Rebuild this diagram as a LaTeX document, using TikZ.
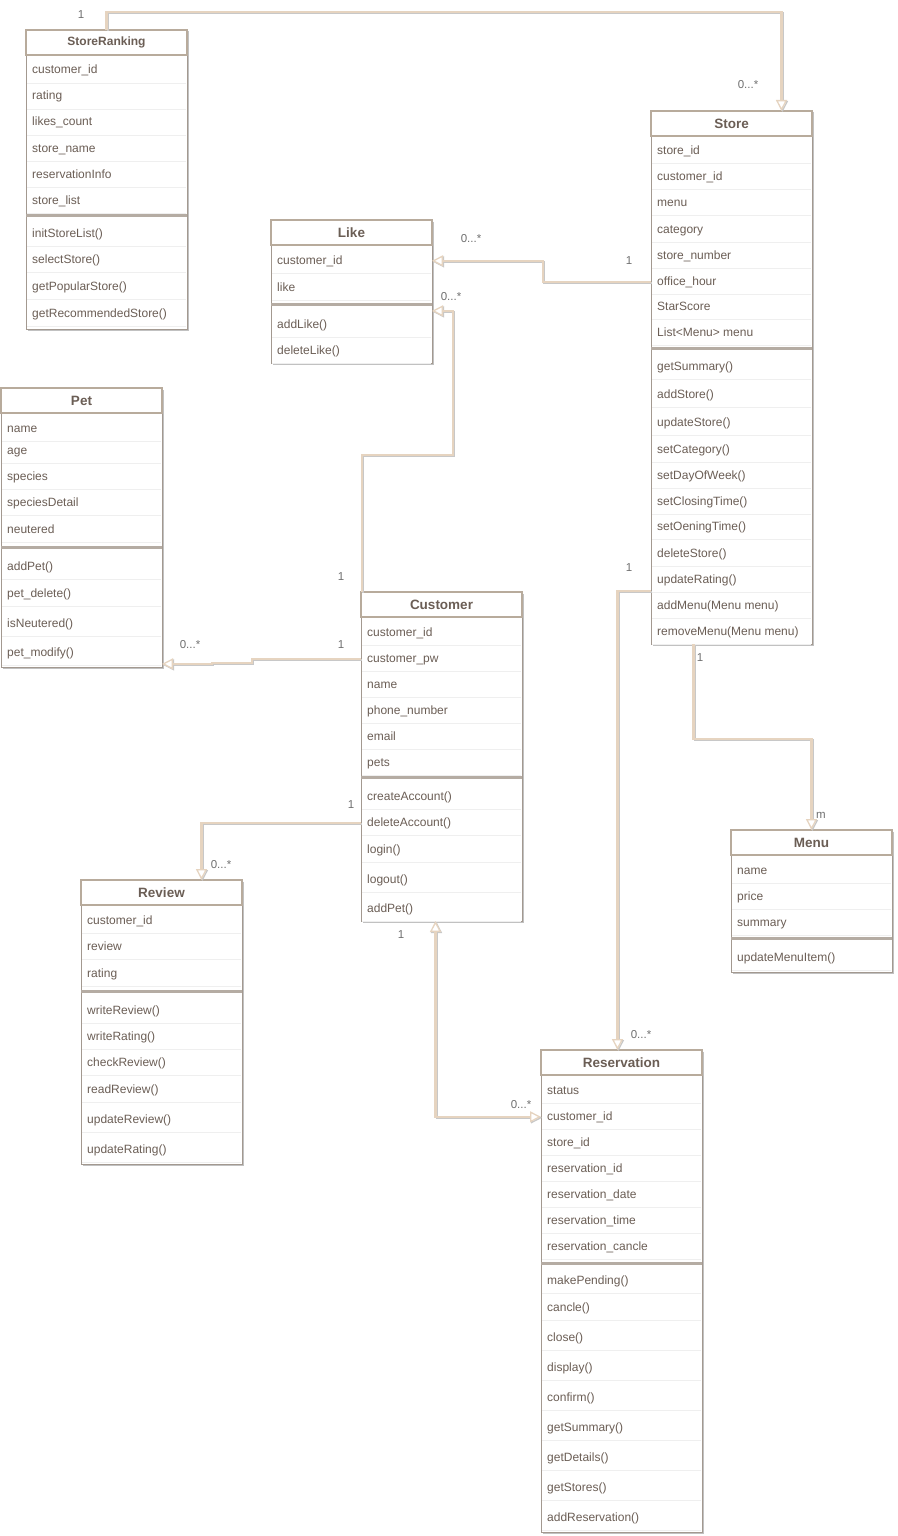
\documentclass[tikz,border=0pt]{standalone}
\usepackage{fontspec}
\setmainfont{Liberation Sans}
\usetikzlibrary{arrows.meta,shadows}

\definecolor{boxedge}{HTML}{B8AB9C}
\definecolor{bodyedge}{HTML}{A39990}
\definecolor{textbrown}{HTML}{6B5E55}
\definecolor{sepgray}{HTML}{B5ACA3}
\definecolor{rowgray}{HTML}{EFEFEF}
\definecolor{linebeige}{HTML}{E6D4C0}
\definecolor{lineshadow}{HTML}{C8C8C8}
\definecolor{multgray}{HTML}{707070}

\tikzset{
  opentri/.tip={Triangle[open,length=11pt,width=11pt,line width=1.3pt,fill=white]},
  classbody/.style={draw=bodyedge,line width=1pt,fill=white,minimum width=161pt,
    inner sep=0pt,outer sep=0pt,drop shadow={shadow xshift=1.5pt,shadow yshift=-1.5pt,fill=black!40,opacity=0.6}},
  classhead/.style={draw=boxedge,line width=2pt,fill=white,minimum width=161pt,
    minimum height=25pt,inner sep=0pt,outer sep=0pt,text=textbrown,font=\fontsize{13.5}{15}\selectfont\bfseries},
  row/.style={anchor=base west,inner sep=0pt,text=textbrown,font=\fontsize{12}{14}\selectfont},
  rowline/.style={draw=rowgray,line width=0.8pt},
  sepband/.style={draw=sepgray,line width=3.5pt},
  mult/.style={inner sep=0pt,text=multgray,font=\fontsize{11.5}{13}\selectfont},
  assoc/.style={draw=linebeige,line width=2.2pt,
    preaction={draw=lineshadow,line width=2pt,transform canvas={shift={(1pt,-1pt)}}}}
}

% class box: name, title, left, top, bottom, separator
\newcommand{\umlclass}[6]{%
  \node[classbody,minimum height={(#5-#4)*1pt},anchor=north west] (#1) at (#3,#4) {};
  \draw[sepband] (#3,#6) -- ++(161,0);
  \node[classhead,anchor=north west] (#1-head) at (#3,#4) {#2};
}
% rows: name, left, list of y/text
\newcommand{\umlrows}[3]{%
  \foreach \y/\t [count=\i] in {#3} {
    \draw[rowline] (#2+1,\y+13) -- ++(159,0);
    \node[row] (#1-\i) at (#2+6,\y+4) {\t};
  }
}

\begin{document}
\begin{tikzpicture}[x=1pt,y=-1pt]

\useasboundingbox[fill=white] (0,0) rectangle (897,1536);

% classes
\umlclass{ranking}{\fontsize{12}{14}\selectfont StoreRanking}{26}{30}{329}{215.5}
\umlrows{ranking}{26}{70/customer\_id,96/rating,122/likes\_count,148/store\_name,
  174/reservationInfo,200/store\_list,233/initStoreList(),259/selectStore(),
  286/getPopularStore(),313/getRecommendedStore()}

\umlclass{store}{Store}{651}{111}{644}{348.5}
\umlrows{store}{651}{150/store\_id,176/customer\_id,202/menu,229/category,
  255/store\_number,281/office\_hour,306/StarScore,332/List<Menu> menu,
  366/getSummary(),394/addStore(),422/updateStore(),449/setCategory(),
  475/setDayOfWeek(),501/setClosingTime(),526/setOeningTime(),553/deleteStore(),
  579/updateRating(),605/addMenu(Menu menu),631/removeMenu(Menu menu)}

\umlclass{like}{Like}{271}{220}{363}{304.5}
\umlrows{like}{271}{260/customer\_id,287/like,324/addLike(),350/deleteLike()}

\umlclass{pet}{Pet}{1}{388}{667}{547.5}
\umlrows{pet}{1}{428/name,450/age,476/species,502/speciesDetail,529/neutered,
  566/addPet(),593/pet\_delete(),623/isNeutered(),652/pet\_modify()}

\umlclass{customer}{Customer}{361}{592}{921}{777.5}
\umlrows{customer}{361}{632/customer\_id,658/customer\_pw,684/name,710/phone\_number,
  736/email,762/pets,796/createAccount(),822/deleteAccount(),849/login(),
  879/logout(),908/addPet()}

\umlclass{review}{Review}{81}{880}{1164}{991.5}
\umlrows{review}{81}{920/customer\_id,946/review,973/rating,1010/writeReview(),
  1036/writeRating(),1062/checkReview(),1089/readReview(),1119/updateReview(),
  1149/updateRating()}

\umlclass{menu}{Menu}{731}{830}{972}{938.5}
\umlrows{menu}{731}{870/name,896/price,922/summary,957/updateMenuItem()}

\umlclass{reservation}{Reservation}{541}{1050}{1532}{1263.5}
\umlrows{reservation}{541}{1090/status,1116/customer\_id,1142/store\_id,
  1168/reservation\_id,1194/reservation\_date,1220/reservation\_time,
  1246/reservation\_cancle,1280/makePending(),1307/cancle(),1337/close(),
  1367/display(),1397/confirm(),1427/getSummary(),1457/getDetails(),
  1487/getStores(),1517/addReservation()}

% associations
\coordinate (likein) at ([yshift=14pt]like.east |- like-3);
\coordinate (petin) at ([yshift=-11pt]pet.east |- pet-9);

\draw[assoc,-opentri] (ranking-head.north) -- ++(0,-18) -| ([xshift=50pt]store-head.north);
\draw[assoc,-opentri] (store.west |- store-6) -- ++(-108,0) |- (like.east |- like-1);
\draw[assoc,-opentri] ([xshift=1pt]customer-head.north west) -- ++(0,-137) -| ([xshift=21pt]likein) -- (likein);
\draw[assoc,-opentri] (customer.west |- customer-2) -- ++(-109,0) -- ++(0,4) -- ++(-40,0) |- (petin);
\draw[assoc,-opentri] (customer.west |- customer-8) -| ([xshift=40pt]review-head.north);
\draw[assoc,opentri-opentri] ([xshift=-6pt]customer.south) |- (reservation.west |- reservation-2);
\draw[assoc,-opentri] ([yshift=-11pt]store.west |- store-17) -| ([xshift=-4pt]reservation-head.north);
\draw[assoc,-opentri] ([xshift=-38pt]store.south) -- ++(0,95) -| (menu-head.north);

% multiplicities
\node[mult] (m1) at (81,15) {1};
\node[mult] (m2) at (748,85) {0...*};
\node[mult] (m3) at (471,239) {0...*};
\node[mult] (m4) at (629,261) {1};
\node[mult] (m5) at (451,297) {0...*};
\node[mult] (m6) at (341,577) {1};
\node[mult] (m7) at (190,645) {0...*};
\node[mult] (m8) at (341,645) {1};
\node[mult] (m9) at (351,805) {1};
\node[mult] (m10) at (221,865) {0...*};
\node[mult] (m11) at (401,935) {1};
\node[mult] (m12) at (521,1105) {0...*};
\node[mult] (m13) at (629,568) {1};
\node[mult] (m14) at (641,1035) {0...*};
\node[mult] (m15) at (700,658) {1};
\node[mult] (m16) at (821,815) {m};

\end{tikzpicture}
\end{document}
